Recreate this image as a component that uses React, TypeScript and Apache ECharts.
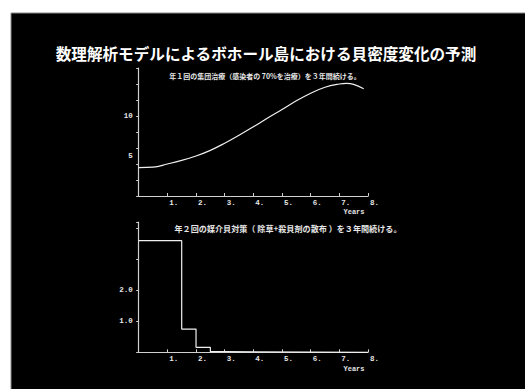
import React, { useEffect, useRef } from "react";
import * as echarts from "echarts";

// Mass treatment scenario: snail density over time
const years1: number[] = [0, 0.5, 1, 1.5, 2, 2.5, 3, 3.5, 4, 4.5, 5, 5.5, 6, 6.5, 7, 7.25, 7.5, 7.85];
const density1: number[] = [3.55, 3.6, 4.0, 4.45, 5.0, 5.7, 6.6, 7.6, 8.65, 9.75, 10.8, 11.9, 12.85, 13.6, 14.0, 14.08, 13.95, 13.4];

// Snail control scenario (twice a year): stepwise density
const years2: number[] = [0, 1.5, 2.0, 2.5, 3.0, 8.0];
const density2: number[] = [3.6, 0.75, 0.16, 0.02, 0, 0];

const xTickLabels: string[] = ["", "1.", "2.", "3.", "4.", "5.", "6.", "7.", "8."];
const yLabels1: number[] = [5, 10];
const yLabels2: number[] = [1, 2];

const mainTitle = "数理解析モデルによるボホール島における貝密度変化の予測";
const subTitle1 = "年１回の集団治療（感染者の 70%を治療）を３年間続ける。";
const subTitle2 = "年２回の媒介貝対策（ 除草+殺貝剤の散布 ）を３年間続ける。";
const xName = "Years";

const FG = "#e6e6e6";
const MONO = "'Liberation Mono', 'DejaVu Sans Mono', monospace";
const JP = "'Noto Sans CJK JP', 'Noto Sans CJK SC', sans-serif";

export default function App() {
  const ref = useRef<HTMLDivElement>(null);

  useEffect(() => {
    if (!ref.current) return;
    document.documentElement.style.overflow = "hidden";
    document.body.style.overflow = "hidden";
    document.body.style.margin = "0";
    const chart = echarts.init(ref.current, undefined, { renderer: "svg" });

    const xAxisBase = (gridIndex: number) => ({
      type: "value" as const,
      gridIndex,
      min: 0,
      max: 8,
      interval: 1,
      splitLine: { show: false },
      axisLine: { show: true, lineStyle: { color: "#d0d0d0", width: 1.2 } },
      axisTick: { show: true, inside: true, length: 3, lineStyle: { color: "#d0d0d0" } },
      axisLabel: {
        color: FG,
        fontFamily: MONO,
        fontSize: 7.5,
        fontWeight: "bold" as const,
        margin: 3,
        align: "left" as const,
        padding: [0, 0, 0, 2],
        formatter: (v: number) => xTickLabels[Math.round(v)] ?? "",
      },
    });

    chart.setOption({
      animation: false,
      backgroundColor: "#ffffff",
      grid: [
        { left: 138.7, width: 229.3, top: 68, height: 128 },
        { left: 138.7, width: 229.3, top: 222.1, height: 130.2 },
      ],
      xAxis: [xAxisBase(0), xAxisBase(1)],
      yAxis: [
        {
          type: "value",
          gridIndex: 0,
          min: 0,
          max: 16,
          interval: 2,
          splitLine: { show: false },
          axisLine: { show: true, lineStyle: { color: "#d0d0d0", width: 1.2 } },
          axisTick: { show: true, length: 2.5, lineStyle: { color: "#d0d0d0" } },
          axisLabel: {
            color: FG,
            fontFamily: MONO,
            fontSize: 7.5,
            fontWeight: "bold",
            margin: 6,
            customValues: yLabels1,
            formatter: (v: number) => String(v),
          },
        },
        {
          type: "value",
          gridIndex: 1,
          min: 0,
          max: 4.2,
          interval: 1,
          splitLine: { show: false },
          axisLine: { show: true, lineStyle: { color: "#d0d0d0", width: 1.2 } },
          axisTick: { show: true, length: 2.5, lineStyle: { color: "#d0d0d0" } },
          axisLabel: {
            color: FG,
            fontFamily: MONO,
            fontSize: 7.5,
            fontWeight: "bold",
            margin: 6,
            customValues: yLabels2,
            formatter: (v: number) => v.toFixed(1),
          },
        },
      ],
      series: [
        {
          type: "line",
          xAxisIndex: 0,
          yAxisIndex: 0,
          data: years1.map((x, i) => [x, density1[i]]),
          smooth: 0.4,
          showSymbol: false,
          z: 3,
          lineStyle: { color: "#f0f0f0", width: 1.2 },
        },
        {
          type: "line",
          xAxisIndex: 1,
          yAxisIndex: 1,
          data: years2.map((x, i) => [x, density2[i]]),
          step: "end",
          showSymbol: false,
          z: 3,
          lineStyle: { color: "#f0f0f0", width: 1.2 },
        },
      ],
      graphic: [
        {
          // dark slide panel
          type: "rect",
          z: -10,
          silent: true,
          shape: { x: 11, y: 13, width: 530, height: 390 },
          style: { fill: "#000000", stroke: "#8a8a8a", lineWidth: 1 },
        },
        {
          type: "text",
          x: 266,
          y: 53,
          style: {
            text: mainTitle,
            fill: "#ffffff",
            font: `bold 15.6px ${JP}`,
            align: "center",
            verticalAlign: "middle",
          },
        },
        {
          type: "text",
          x: 265,
          y: 76,
          style: {
            text: subTitle1,
            fill: FG,
            font: `bold 7px ${JP}`,
            align: "center",
            verticalAlign: "middle",
          },
        },
        {
          type: "text",
          x: 288,
          y: 228,
          style: {
            text: subTitle2,
            fill: FG,
            font: `bold 8.1px ${JP}`,
            align: "center",
            verticalAlign: "middle",
          },
        },
        {
          type: "text",
          x: 354,
          y: 212,
          style: { text: xName, fill: FG, font: `bold 7px ${MONO}`, align: "center", verticalAlign: "middle" },
        },
        {
          type: "text",
          x: 354,
          y: 369,
          style: { text: xName, fill: FG, font: `bold 7px ${MONO}`, align: "center", verticalAlign: "middle" },
        },
      ],
    });

    return () => chart.dispose();
  }, []);

  return (
    <div ref={ref} style={{ position: "fixed", left: 0, top: 0, width: 525, height: 389 }} />
  );
}
